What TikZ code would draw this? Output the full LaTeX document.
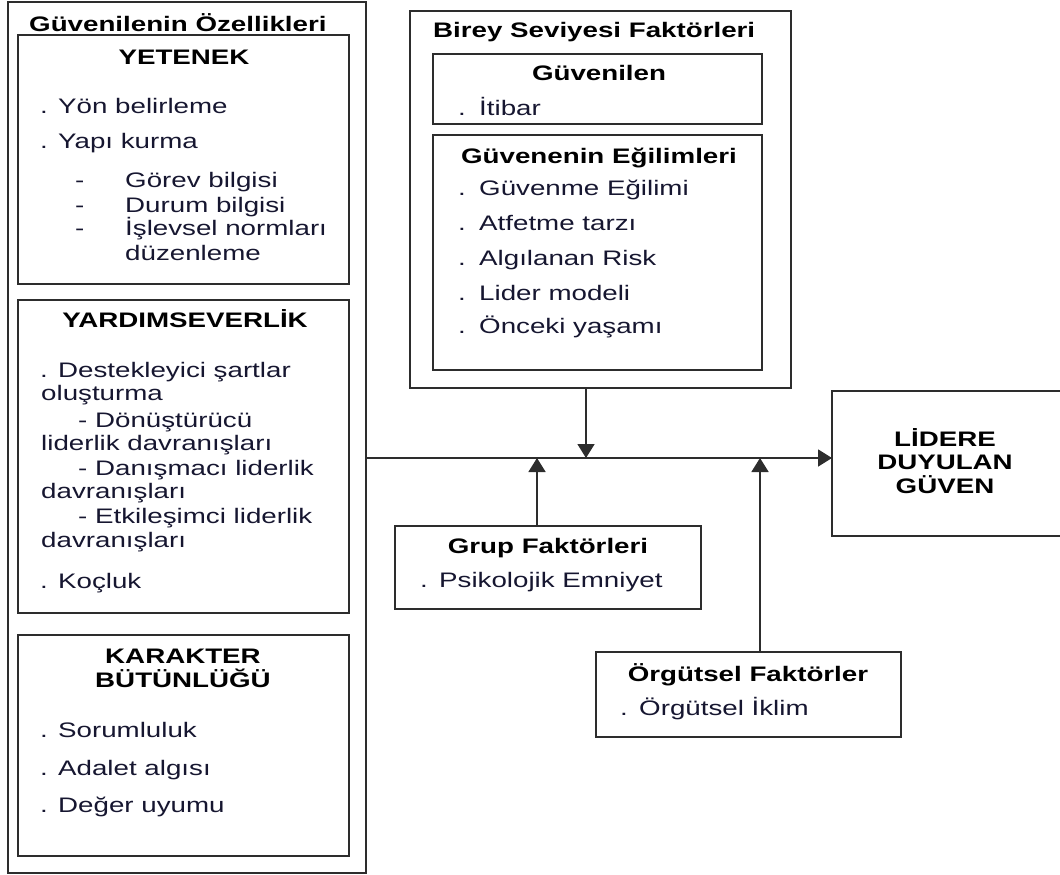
\documentclass[tikz,border=0pt]{standalone}
\usepackage{fontspec}
\setmainfont{Liberation Sans}[FakeStretch=1.32]
\usetikzlibrary{arrows.meta}

\definecolor{edge}{RGB}{45,45,45}
\definecolor{ink}{RGB}{22,22,48}

% box from its left, top, right and bottom edges
\newcommand{\mybox}[5]{%
  \node[box, minimum width={#4pt-#2pt}, minimum height={#5pt-#3pt}]
    (#1) at ({(#2+#4)/2},{(#3+#5)/2}) {};}

\begin{document}
\begin{tikzpicture}[x=1pt, y=-1pt,
  box/.style={draw=edge, line width=1.6pt, inner sep=0pt, outer sep=0pt},
  item/.style={inner sep=0pt, anchor=base west, text=ink},
  head/.style={inner sep=0pt, anchor=base, font=\fontsize{21}{24}\selectfont\bfseries, text=black},
  headl/.style={inner sep=0pt, anchor=base west, font=\fontsize{21}{24}\selectfont\bfseries, text=black},
  arr/.style={draw=edge, line width=1.7pt, -{Triangle[length=14pt, width=17pt]}},
  every node/.append style={font=\fontsize{21}{24}\selectfont}]

\useasboundingbox (0,0) rectangle (1060,875);

% ---------- left column ----------
\mybox{outerL}{8}{2}{366}{873}
\mybox{yetenek}{18}{35}{349}{284}
\mybox{yardim}{18}{300}{349}{613}
\mybox{karakter}{18}{635}{349}{856}

\node[headl] (tL) at (29,32) {Güvenilenin Özellikleri};

\node[head] (tY) at (184,65) {YETENEK};
\node[item] (y1) at (40,113) {. Yön belirleme};
\node[item] (y2) at (40,148) {. Yapı kurma};
\node[item] (y3d) at (75,187) {-};
\node[item] (y3) at (125,187) {Görev bilgisi};
\node[item] (y4d) at (75,212) {-};
\node[item] (y4) at (125,212) {Durum bilgisi};
\node[item] (y5d) at (75,235) {-};
\node[item] (y5) at (125,235) {İşlevsel normları};
\node[item] (y6) at (125,260) {düzenleme};

\node[head] (tD) at (185,327) {YARDIMSEVERLİK};
\node[item] (d1) at (40,377) {. Destekleyici şartlar};
\node[item] (d2) at (41,400) {oluşturma};
\node[item] (d3) at (78,427) {- Dönüştürücü};
\node[item] (d4) at (41,450) {liderlik davranışları};
\node[item] (d5) at (78,475) {- Danışmacı liderlik};
\node[item] (d6) at (41,498) {davranışları};
\node[item] (d7) at (78,523) {- Etkileşimci liderlik};
\node[item] (d8) at (41,547) {davranışları};
\node[item] (d9) at (40,588) {. Koçluk};

\node[head] (tK1) at (183,663) {KARAKTER};
\node[head] (tK2) at (183,687) {BÜTÜNLÜĞÜ};
\node[item] (k1) at (40,737) {. Sorumluluk};
\node[item] (k2) at (40,775) {. Adalet algısı};
\node[item] (k3) at (40,812) {. Değer uyumu};

% ---------- individual-level factors ----------
\mybox{birey}{410}{11}{791}{388}
\mybox{guvenilen}{433}{54}{762}{124}
\mybox{egilim}{433}{135}{762}{370}

\node[headl] (tB) at (433,38) {Birey Seviyesi Faktörleri};
\node[head] (tG) at (599,81) {Güvenilen};
\node[item] (g1d) at (458,115) {.};
\node[item] (g1) at (479,115) {İtibar};
\node[head] (tE) at (599,163) {Güvenenin Eğilimleri};
\node[item] (e1d) at (458,195) {.};
\node[item] (e1) at (479,195) {Güvenme Eğilimi};
\node[item] (e2d) at (458,230) {.};
\node[item] (e2) at (479,230) {Atfetme tarzı};
\node[item] (e3d) at (458,265) {.};
\node[item] (e3) at (479,265) {Algılanan Risk};
\node[item] (e4d) at (458,300) {.};
\node[item] (e4) at (479,300) {Lider modeli};
\node[item] (e5d) at (458,333) {.};
\node[item] (e5) at (479,333) {Önceki yaşamı};

% ---------- group and organisational factors ----------
\mybox{grup}{395}{526}{701}{609}
\node[head] (tGr) at (548,553) {Grup Faktörleri};
\node[item] (gr1d) at (420,587) {.};
\node[item] (gr1) at (439,587) {Psikolojik Emniyet};

\mybox{org}{596}{652}{901}{737}
\node[head] (tO) at (748,681) {Örgütsel Faktörler};
\node[item] (o1d) at (620,715) {.};
\node[item] (o1) at (639,715) {Örgütsel İklim};

% ---------- outcome ----------
\mybox{lidere}{832}{391}{1062}{536}
\node[head] (l1) at (945,446) {LİDERE};
\node[head] (l2) at (945,469) {DUYULAN};
\node[head] (l3) at (945,493) {GÜVEN};

% ---------- connectors ----------
\coordinate (j1) at (586,458);
\coordinate (j2) at (537,458);
\coordinate (j3) at (760,458);

\draw[arr] (outerL.east |- j1) -- (lidere.west |- j1);
\draw[arr] (birey.south -| j1) -- (j1);
\draw[arr] (grup.north -| j2) -- (j2);
\draw[arr] (org.north -| j3) -- (j3);

\end{tikzpicture}
\end{document}
